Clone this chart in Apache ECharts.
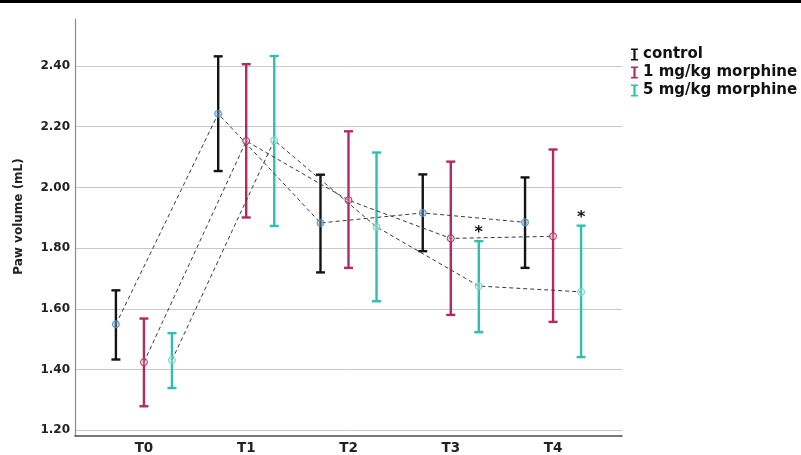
<!DOCTYPE html>
<html><head><meta charset="utf-8">
<script src="https://cdn.jsdelivr.net/npm/echarts@6/dist/echarts.min.js"></script>
<style>html,body{margin:0;padding:0;background:#fff}#c{width:801px;height:455px}</style>
</head><body><div id="c"></div>
<script>
const categories = ['T0', 'T1', 'T2', 'T3', 'T4'];
const yTicks = [1.2, 1.4, 1.6, 1.8, 2.0, 2.2, 2.4];
const seriesNames = ['control', '1 mg/kg morphine', '5 mg/kg morphine'];
const controlMean = [1.549, 2.243, 1.883, 1.916, 1.885];
const controlLow  = [1.433, 2.054, 1.720, 1.790, 1.735];
const controlHigh = [1.661, 2.432, 2.042, 2.043, 2.033];
const mg1Mean = [1.424, 2.153, 1.958, 1.832, 1.839];
const mg1Low  = [1.279, 1.901, 1.735, 1.580, 1.557];
const mg1High = [1.568, 2.406, 2.185, 2.085, 2.125];
const mg5Mean = [1.431, 2.155, 1.870, 1.675, 1.656];
const mg5Low  = [1.339, 1.873, 1.625, 1.523, 1.441];
const mg5High = [1.520, 2.433, 2.115, 1.823, 1.874];
const controlSig = [0, 0, 0, 0, 0];
const mg1Sig = [0, 0, 0, 0, 0];
const mg5Sig = [0, 0, 0, 1, 1];

const FONT = 'DejaVu Sans';
const colors = ['#141414', '#b32a5f', '#2ec0ad'];
const markerStroke = ['#4f93c9', '#b32a5f', '#6fd3c6'];
const markerFill = ['rgba(120,170,215,0.45)', 'rgba(230,180,200,0.35)', 'rgba(180,235,228,0.45)'];
const offsets = [-0.274, 0, 0.274];
const groups = [
  [controlMean, controlLow, controlHigh, controlSig],
  [mg1Mean, mg1Low, mg1High, mg1Sig],
  [mg5Mean, mg5Low, mg5High, mg5Sig]
];
const ibeam = 'path://M0,0H7V1.6H4.6V10.4H7V12H0V10.4H2.4V1.6H0Z';

function makeErr(color, offset) {
  return function (params, api) {
    const x = api.value(0) + offset;
    const pl = api.coord([x, api.value(2)]);
    const ph = api.coord([x, api.value(3)]);
    const hw = 4.5;
    const style = { stroke: color, lineWidth: 2.4 };
    const children = [
      { type: 'line', shape: { x1: ph[0], y1: ph[1], x2: pl[0], y2: pl[1] }, style: style },
      { type: 'line', shape: { x1: ph[0] - hw, y1: ph[1], x2: ph[0] + hw, y2: ph[1] }, style: style },
      { type: 'line', shape: { x1: pl[0] - hw, y1: pl[1], x2: pl[0] + hw, y2: pl[1] }, style: style }
    ];
    if (api.value(4)) {
      children.push({ type: 'text', x: ph[0], y: ph[1] - 8,
        style: { text: '*', fill: '#111', font: 'bold 16px ' + FONT, align: 'center', verticalAlign: 'middle' } });
    }
    return { type: 'group', children: children };
  };
}

const series = [];
groups.forEach(function (g, k) {
  series.push({
    name: seriesNames[k], type: 'custom', z: 2,
    itemStyle: { color: colors[k] },
    renderItem: makeErr(colors[k], offsets[k]),
    encode: { x: 0, y: [1, 2, 3] },
    data: categories.map(function (c, i) { return [i, g[0][i], g[1][i], g[2][i], g[3][i]]; })
  });
});
groups.forEach(function (g, k) {
  series.push({
    name: seriesNames[k] + ' mean', type: 'line', z: 3,
    data: categories.map(function (c, i) { return [i + offsets[k], g[0][i]]; }),
    lineStyle: { color: '#3a3a3a', width: 1, type: [4, 3] },
    symbol: 'circle', symbolSize: 7, showSymbol: true,
    itemStyle: { color: markerFill[k], borderColor: markerStroke[k], borderWidth: 1 }
  });
});

const chart = echarts.init(document.getElementById('c'), null, { renderer: 'canvas' });
chart.setOption({
  animation: false,
  backgroundColor: '#fff',
  graphic: [{ type: 'rect', left: 0, top: 0, shape: { width: 801, height: 3 }, style: { fill: '#000' } }],
  grid: { left: 75, right: 179, top: 19, bottom: 19 },
  legend: {
    orient: 'vertical', left: 626, top: 42, itemGap: 3, itemWidth: 7, itemHeight: 12,
    textStyle: { fontFamily: FONT, fontWeight: 'bold', fontSize: 15, color: '#111' },
    data: seriesNames.map(function (n) { return { name: n, icon: ibeam }; })
  },
  xAxis: {
    type: 'value', min: -0.674, max: 4.674,
    axisLine: { show: true, onZero: false, lineStyle: { color: '#4a4a4a', width: 1.5 } },
    axisTick: { show: false },
    splitLine: { show: false },
    axisLabel: {
      customValues: [0, 1, 2, 3, 4],
      formatter: function (v) { return categories[Math.round(v)]; },
      fontFamily: FONT, fontWeight: 'bold', fontSize: 13.5, color: '#222', margin: 5
    }
  },
  yAxis: {
    type: 'value', min: 1.181, max: 2.555,
    name: 'Paw volume (mL)', nameLocation: 'middle', nameGap: 50,
    nameTextStyle: { fontFamily: FONT, fontWeight: 'bold', fontSize: 12, color: '#222', padding: [0, 0, 0, 22] },
    axisLine: { show: true, onZero: false, lineStyle: { color: '#8a8a8a', width: 1.2 } },
    axisTick: { show: false, customValues: yTicks },
    splitLine: { show: true, lineStyle: { color: '#c9c9c9', width: 1 } },
    axisLabel: {
      customValues: yTicks,
      formatter: function (v) { return v.toFixed(2); },
      fontFamily: FONT, fontWeight: 'bold', fontSize: 12, color: '#222', margin: 5
    }
  },
  series: series
});
</script></body></html>
